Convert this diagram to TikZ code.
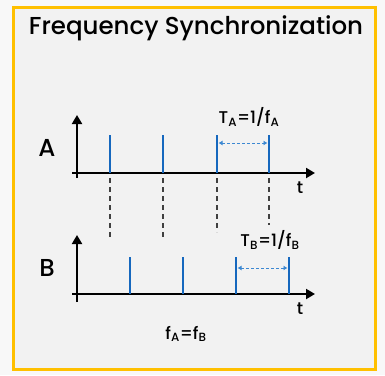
\documentclass[tikz,border=0pt]{standalone}
\usepackage{fontspec}
\setmainfont{Poppins Medium}
\usetikzlibrary{arrows.meta,positioning}
\definecolor{frameyellow}{RGB}{255,192,0}
\definecolor{pulseblue}{RGB}{22,104,190}
\definecolor{periodblue}{RGB}{60,136,210}
\definecolor{panelgray}{RGB}{242,242,242}
\definecolor{pagegray}{RGB}{248,248,248}

\begin{document}
\begin{tikzpicture}[
    x=1pt,y=-1pt,
    frame/.style={draw=frameyellow,line width=3pt,fill=panelgray},
    axis/.style={line width=2pt,-{Triangle[length=9pt,width=10pt]}},
    pulse/.style={draw=pulseblue,line width=2.4pt},
    guide/.style={draw=black!75,line width=1.2pt,dash pattern=on 5pt off 4pt},
    period/.style={draw=periodblue,line width=1pt,dash pattern=on 3pt off 2pt,{Latex[length=4pt,width=5pt]}-{Latex[length=4pt,width=5pt]}},
    lbl/.style={font=\fontsize{17}{20}\selectfont,inner sep=1pt},
    biglbl/.style={font=\fontsize{24.5}{28}\selectfont,inner sep=1pt},
]
    \fill[pagegray] (0,0) rectangle (385,375);
    \useasboundingbox (0,0) rectangle (385,375);
    \draw[frame] (13.5,7.5) rectangle (375,369.5);

    \node[biglbl] (title) at (196,28) {Frequency Synchronization};

    % signal A
    \coordinate (ayb) at (77,178);
    \coordinate (ayt) at (77,115);
    \coordinate (axl) at (72,173);
    \coordinate (axr) at (315,173);
    \draw[axis] (ayb) -- (ayt);
    \draw[axis] (axl) -- (axr);
    \node[biglbl] (alabel) at (47,148) {A};
    \node[lbl] (at) at (300,188) {t};

    \coordinate (a1) at (110,173);
    \coordinate (a2) at (163,173);
    \coordinate (a3) at (217,173);
    \coordinate (a4) at (269,173);
    \coordinate (a1top) at (110,135);
    \coordinate (a2top) at (163,135);
    \coordinate (a3top) at (217,135);
    \coordinate (a4top) at (269,135);
    \draw[pulse] (a1) -- (a1top);
    \draw[pulse] (a2) -- (a2top);
    \draw[pulse] (a3) -- (a3top);
    \draw[pulse] (a4) -- (a4top);

    \coordinate (pa1) at (218.5,143);
    \coordinate (pa2) at (267.5,143);
    \draw[period] (pa1) -- (pa2);
    \node[lbl] (taperiod) at (249,117) {T\textsubscript{A}=1/f\textsubscript{A}};

    % guides from A to B
    \coordinate (g1) at (110,240);
    \coordinate (g2) at (163,240);
    \coordinate (g3) at (217,232);
    \coordinate (g4) at (269,225);
    \draw[guide] ([yshift=-5pt]a1) -- (g1);
    \draw[guide] ([yshift=-5pt]a2) -- (g2);
    \draw[guide] ([yshift=-5pt]a3) -- (g3);
    \draw[guide] ([yshift=-5pt]a4) -- (g4);

    % signal B
    \coordinate (byb) at (77,302);
    \coordinate (byt) at (77,235);
    \coordinate (bxl) at (72,294);
    \coordinate (bxr) at (315,294);
    \draw[axis] (byb) -- (byt);
    \draw[axis] (bxl) -- (bxr);
    \node[biglbl] (blabel) at (47,268) {B};
    \node[lbl] (bt) at (300,309) {t};

    \coordinate (b1) at (130,294);
    \coordinate (b2) at (183,294);
    \coordinate (b3) at (236,294);
    \coordinate (b4) at (289,294);
    \coordinate (b1top) at (130,257);
    \coordinate (b2top) at (183,257);
    \coordinate (b3top) at (236,257);
    \coordinate (b4top) at (289,257);
    \draw[pulse] (b1) -- (b1top);
    \draw[pulse] (b2) -- (b2top);
    \draw[pulse] (b3) -- (b3top);
    \draw[pulse] (b4) -- (b4top);

    \coordinate (pb1) at (237.5,268);
    \coordinate (pb2) at (287.5,268);
    \draw[period] (pb1) -- (pb2);
    \node[lbl] (tbperiod) at (270,240) {T\textsubscript{B}=1/f\textsubscript{B}};

    \node[lbl] (equal) at (186,334) {f\textsubscript{A}=f\textsubscript{B}};
\end{tikzpicture}
\end{document}
